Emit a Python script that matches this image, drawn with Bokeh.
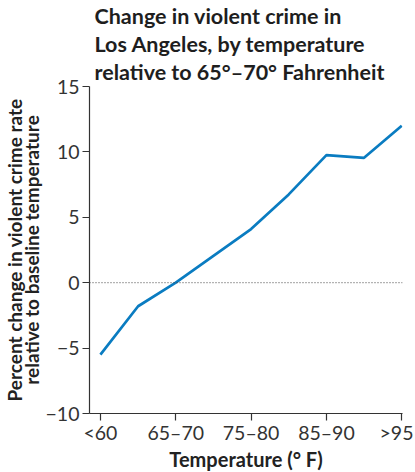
from bokeh.plotting import figure
from bokeh.models import Title, Span, FixedTicker, Range1d
from bokeh.embed import file_html
from bokeh.resources import INLINE

categories = ["<60", "60–65", "65–70", "70–75", "75–80", "80–85", "85–90", "90–95", ">95"]
values = [-5.5, -1.8, 0.0, 2.05, 4.1, 6.75, 9.75, 9.55, 12.0]
x_tick_labels = ["<60", "65–70", "75–80", "85–90", ">95"]
y_ticks = [-10, -5, 0, 5, 10, 15]

xs = list(range(len(categories)))

p = figure(frame_width=313, frame_height=327, output_backend="svg", toolbar_location=None,
           x_range=Range1d(-0.29, 8.02), y_range=Range1d(-10, 15),
           min_border_left=81, min_border_right=11, min_border_top=79, min_border_bottom=50)

p.outline_line_color = None
p.xgrid.visible = False
p.ygrid.visible = False
p.background_fill_color = "white"
p.border_fill_color = "white"

title = Title(text="Change in violent crime in\nLos Angeles, by temperature\nrelative to 65°–70° Fahrenheit",
              text_font="Lato", text_font_style="bold", text_font_size="21.5px",
              text_color="#1e1e1e", align="left", offset=5, standoff=2, text_line_height=1.08)
p.add_layout(title, "above")

p.add_layout(Span(location=0, dimension="width", line_color="#444444", line_width=1,
                  line_dash="1 2"))

p.line(xs, values, line_color="#0a7cc1", line_width=2.7)

tick_pos = [categories.index(c) for c in x_tick_labels]
p.xaxis.ticker = FixedTicker(ticks=tick_pos)
p.xaxis.major_label_overrides = {i: c for i, c in zip(tick_pos, x_tick_labels)}
p.yaxis.ticker = FixedTicker(ticks=y_ticks)
p.yaxis.major_label_overrides = {v: (str(v).replace("-", "−")) for v in y_ticks}

for ax in (p.xaxis[0], p.yaxis[0]):
    ax.axis_line_color = "#333333"
    ax.axis_line_width = 1.2
    ax.major_tick_line_color = "#333333"
    ax.major_tick_line_width = 1.2
    ax.major_tick_in = 0
    ax.major_tick_out = 7
    ax.minor_tick_line_color = None
    ax.major_label_text_font = "Lato"
    ax.major_label_text_font_size = "19.5px"
    ax.major_label_text_color = "#333333"
    ax.axis_label_text_font = "Lato"
    ax.axis_label_text_font_style = "bold"
    ax.axis_label_text_font_size = "19px"
    ax.axis_label_text_color = "#222222"

p.xaxis.axis_label = "Temperature (° F)"
p.xaxis.axis_label_text_font_size = "20px"
p.xaxis.major_label_standoff = 0
p.xaxis.axis_label_standoff = 0
p.yaxis.axis_label = "Percent change in violent crime rate\nrelative to baseline temperature"
p.yaxis.axis_label_text_line_height = 0.72
p.yaxis.major_label_standoff = 3
p.yaxis.axis_label_standoff = 0

open("out.html", "w").write(file_html(p, INLINE))
